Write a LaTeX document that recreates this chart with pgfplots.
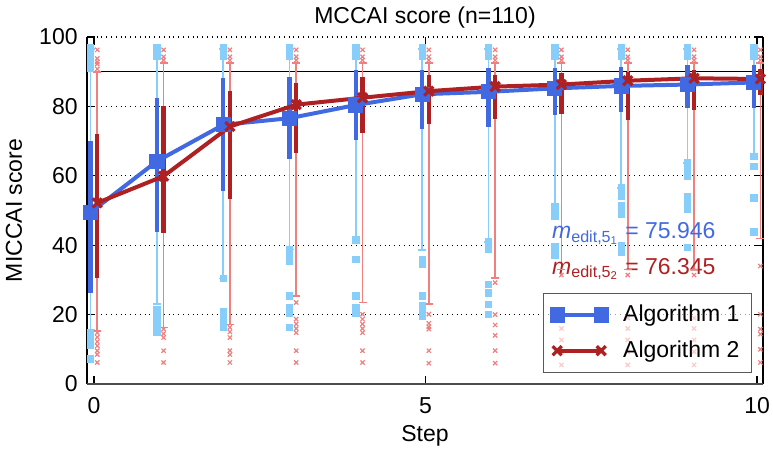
\documentclass[border=0pt]{standalone}
\usepackage{fontspec}
\setmainfont{Liberation Sans}
\usepackage{pgfplots}
\pgfplotsset{compat=1.18}
\definecolor{mblue}{RGB}{65,105,225}
\definecolor{lblue}{RGB}{135,206,250}
\definecolor{mred}{RGB}{175,32,35}
\definecolor{lred}{RGB}{240,128,128}
\newcommand{\ff}{\fontsize{11.5}{13.8}\selectfont}
\begin{document}
\begin{tikzpicture}[font=\ff]
\begin{axis}[name=ax, scale only axis, width=338pt, height=173.5pt,
  xmin=-0.105, xmax=10.09, ymin=0, ymax=100,
  xtick={0,5,10}, ytick={0,20,...,100},
  /pgf/number format/assume math mode=true,
  ymajorgrids, grid style={dotted, black, line width=0.6pt},
  separate axis lines, x axis line style={draw=none},
  y axis line style={black, line width=0.6pt},
  tick style={black, line width=0.6pt}, major tick length=4pt,
  ticklabel style={font=\ff},
  xticklabel style={anchor=base, inner sep=0pt, yshift=-14.5pt},
  yticklabel style={anchor=east, inner sep=0pt, xshift=-4.5pt},
  every axis title shift=0pt,
  title={MCCAI score (n=110)},
  title style={at={(axis description cs:0.5,1.0403)}, anchor=base, inner sep=0pt},
  xlabel={Step},
  xlabel style={at={(axis description cs:0.5,-0.1643)}, anchor=base, inner sep=0pt},
  ylabel={MICCAI score},
  ylabel style={at={(axis description cs:-0.0962,0.5)}, anchor=base, inner sep=0pt},
  unbounded coords=jump,
  legend cell align=left,
  legend style={at={(0.9837,0.0317)}, anchor=south east, draw=gray!70!black, line width=0.5pt,
    fill=white, fill opacity=0.6, draw opacity=1, text opacity=1, font=\ff,
    row sep=4pt, inner xsep=4pt, inner ysep=4pt},
  legend image code/.code={\begin{scope}[fill opacity=1, draw opacity=1]\draw[#1] plot coordinates {(0pt,0pt) (22pt,0pt)};\end{scope} \path (30pt,0pt);},
]
% reference line at 90
\addplot[black, line width=0.5pt, forget plot] coordinates {(-0.2,90) (10.2,90)};
% blue whiskers (thin)
\addplot[lblue, line width=0.8pt, mark=-, mark size=2pt, forget plot] coordinates {
(-0.05,15.5) (-0.05,96.5) (-0.05,nan)
(0.95,23) (0.95,96.5) (0.95,nan)
(1.95,30.4) (1.95,96.5) (1.95,nan)
(2.95,38.8) (2.95,96.5) (2.95,nan)
(3.95,41.5) (3.95,96.5) (3.95,nan)
(4.95,38.6) (4.95,96.5) (4.95,nan)
(5.95,40.9) (5.95,96.5) (5.95,nan)
(6.95,50.8) (6.95,96.5) (6.95,nan)
(7.95,56.5) (7.95,96.5) (7.95,nan)
(8.95,63.7) (8.95,96.5) (8.95,nan)
(9.95,65.6) (9.95,96.5)
};
% red whiskers (thin)
\addplot[lred, line width=0.8pt, mark=-, mark size=2pt, forget plot] coordinates {
(0.05,15.3) (0.05,90) (0.05,nan)
(1.05,16.3) (1.05,92.5) (1.05,nan)
(2.05,17.2) (2.05,92.5) (2.05,nan)
(3.05,25.4) (3.05,92.5) (3.05,nan)
(4.05,23.5) (4.05,92.5) (4.05,nan)
(5.05,23) (5.05,92.5) (5.05,nan)
(6.05,30.6) (6.05,92.5) (6.05,nan)
(7.05,33) (7.05,92.5) (7.05,nan)
(8.05,33) (8.05,92.5) (8.05,nan)
(9.05,33) (9.05,92.5) (9.05,nan)
(10.05,41.9) (10.05,92.5)
};
% blue outliers
\addplot[only marks, mark=square*, mark size=1.6pt, lblue, forget plot] coordinates {
(-0.05,97) (-0.05,95.5) (-0.05,94) (-0.05,92.5) (-0.05,91) (-0.05,14.8) (-0.05,13) (-0.05,11.2) (-0.05,7.2)
(0.95,97) (0.95,95.5) (0.95,94.5) (0.95,21.5) (0.95,20) (0.95,18) (0.95,16.5) (0.95,15)
(1.95,97) (1.95,95.5) (1.95,94.5) (1.95,30.4) (1.95,21) (1.95,19.5) (1.95,18) (1.95,16.5)
(2.95,97) (2.95,95.5) (2.95,94.5) (2.95,38.8) (2.95,37) (2.95,35.4) (2.95,25.4) (2.95,22) (2.95,20.5) (2.95,16.3)
(3.95,97) (3.95,95.5) (3.95,94.5) (3.95,41.5) (3.95,35.9) (3.95,25.4) (3.95,22) (3.95,20.5)
(4.95,97) (4.95,95.5) (4.95,94.5) (4.95,35.9) (4.95,34.5) (4.95,25.4) (4.95,22.5) (4.95,21) (4.95,19.6)
(5.95,97) (5.95,95.5) (5.95,94.5) (5.95,40.9) (5.95,38.8) (5.95,28.7) (5.95,26.3) (5.95,23) (5.95,20.1)
(6.95,97) (6.95,95.5) (6.95,94.5) (6.95,51) (6.95,49.5) (6.95,48.5) (6.95,39.6) (6.95,38) (6.95,37.2)
(7.95,97) (7.95,95.5) (7.95,94.5) (7.95,56.5) (7.95,55) (7.95,54) (7.95,51.5) (7.95,50) (7.95,48.9) (7.95,40) (7.95,38)
(8.95,97) (8.95,95.5) (8.95,94.5) (8.95,63.7) (8.95,62) (8.95,59.9) (8.95,54) (8.95,52) (8.95,50.3) (8.95,39.3)
(9.95,97) (9.95,95.5) (9.95,94.5) (9.95,65.6) (9.95,62.7) (9.95,53.6) (9.95,43.8)
};
% red outliers
\addplot[only marks, mark=x, mark size=1.5pt, lred, line width=0.6pt, forget plot] coordinates {
(0.05,96.3) (0.05,93.8) (0.05,92.8) (0.05,92.2) (0.05,90.8) (0.05,14.8) (0.05,13.5) (0.05,12.2) (0.05,11) (0.05,9.6) (0.05,8.5) (0.05,6.2)
(1.05,96.3) (1.05,94.3) (1.05,93.3) (1.05,15.8) (1.05,14.5) (1.05,13.4) (1.05,9.6) (1.05,6.2)
(2.05,96.3) (2.05,94.3) (2.05,93.3) (2.05,16.3) (2.05,15) (2.05,13.4) (2.05,9.6) (2.05,8.5) (2.05,6.2)
(3.05,96.3) (3.05,94.3) (3.05,93.3) (3.05,23.5) (3.05,18.7) (3.05,17.3) (3.05,16) (3.05,14.8) (3.05,9.6) (3.05,6.2)
(4.05,96.3) (4.05,94.3) (4.05,93.3) (4.05,20.1) (4.05,18.7) (4.05,17.3) (4.05,16) (4.05,14.8) (4.05,9.6) (4.05,6.2)
(5.05,96.3) (5.05,94.3) (5.05,93.3) (5.05,20.1) (5.05,17.5) (5.05,16.5) (5.05,15.8) (5.05,9.6) (5.05,6)
(6.05,96.3) (6.05,94.3) (6.05,93.3) (6.05,29.2) (6.05,20) (6.05,17) (6.05,14) (6.05,9.6) (6.05,6)
(7.05,96.3) (7.05,94.3) (7.05,93.3) (7.05,31.4) (7.05,19) (7.05,16) (7.05,12.7) (7.05,9.3) (7.05,5.5)
(8.05,96.3) (8.05,94.3) (8.05,93.3) (8.05,31.4) (8.05,19) (8.05,16) (8.05,12.7) (8.05,9.3) (8.05,5.5)
(9.05,96.3) (9.05,94.3) (9.05,93.3) (9.05,31.4) (9.05,19) (9.05,16) (9.05,12.7) (9.05,9.3) (9.05,5.5)
(10.05,96.3) (10.05,94.3) (10.05,93.3) (10.05,34) (10.05,20.1) (10.05,15.8) (10.05,14.4) (10.05,10) (10.05,6.2)
};
% blue thick bars
\addplot[mblue, line width=2.2pt, forget plot] coordinates {
(-0.05,26.3) (-0.05,70) (-0.05,nan)
(0.95,43.8) (0.95,82.4) (0.95,nan)
(1.95,55.6) (1.95,88.1) (1.95,nan)
(2.95,64.8) (2.95,88.6) (2.95,nan)
(3.95,70.3) (3.95,90.5) (3.95,nan)
(4.95,73.5) (4.95,90.5) (4.95,nan)
(5.95,74.2) (5.95,91) (5.95,nan)
(6.95,77.5) (6.95,91) (6.95,nan)
(7.95,78.3) (7.95,91.4) (7.95,nan)
(8.95,79.6) (8.95,91.9) (8.95,nan)
(9.95,79.6) (9.95,91.9)
};
% red thick bars
\addplot[mred, line width=2.2pt, forget plot] coordinates {
(0.05,30.6) (0.05,72) (0.05,nan)
(1.05,43.4) (1.05,80.2) (1.05,nan)
(2.05,53.2) (2.05,84.3) (2.05,nan)
(3.05,66.6) (3.05,86.7) (3.05,nan)
(4.05,72.2) (4.05,88.6) (4.05,nan)
(5.05,74.8) (5.05,89) (5.05,nan)
(6.05,76.5) (6.05,89) (6.05,nan)
(7.05,77.7) (7.05,89.5) (7.05,nan)
(8.05,76) (8.05,90) (8.05,nan)
(9.05,79) (9.05,90.5) (9.05,nan)
(10.05,83.3) (10.05,90.8)
};
% main lines
\addplot[mblue, line width=2pt, mark=square*, mark size=2.8pt] coordinates {
(-0.05,49.5) (0.95,64.2) (1.95,74.7) (2.95,76.6) (3.95,80.4) (4.95,83.5)
(5.95,84.2) (6.95,85.2) (7.95,85.9) (8.95,86.3) (9.95,86.9)
};
\addlegendentry{Algorithm 1}
\addplot[mred, line width=2pt, mark=x, mark size=3.2pt, mark options={line width=1.6pt}] coordinates {
(0.05,52.2) (1.05,59.9) (2.05,74.2) (3.05,80.5) (4.05,82.5) (5.05,84.4)
(6.05,85.7) (7.05,86.3) (8.05,87.4) (9.05,88.1) (10.05,87.9)
};
\addlegendentry{Algorithm 2}
\node[anchor=base west, inner sep=0pt, text=mblue, font=\ff] at (axis cs:6.904,41.8)
  {\textit{m}\textsubscript{edit,5\textsubscript{1}} = 75.946};
\node[anchor=base west, inner sep=0pt, text=mred, font=\ff] at (axis cs:6.904,31.7)
  {\textit{m}\textsubscript{edit,5\textsubscript{2}} = 76.345};
\end{axis}
\draw[black!70, line width=1pt] (ax.south west) -- (ax.south east);
\path (ax.south west) ++(-43.5pt,-33.5pt) coordinate (bl);
\path (ax.north east) ++(5pt,18.5pt) coordinate (tr);
\pgfresetboundingbox
\path (bl) rectangle (tr);
\end{tikzpicture}
\end{document}
